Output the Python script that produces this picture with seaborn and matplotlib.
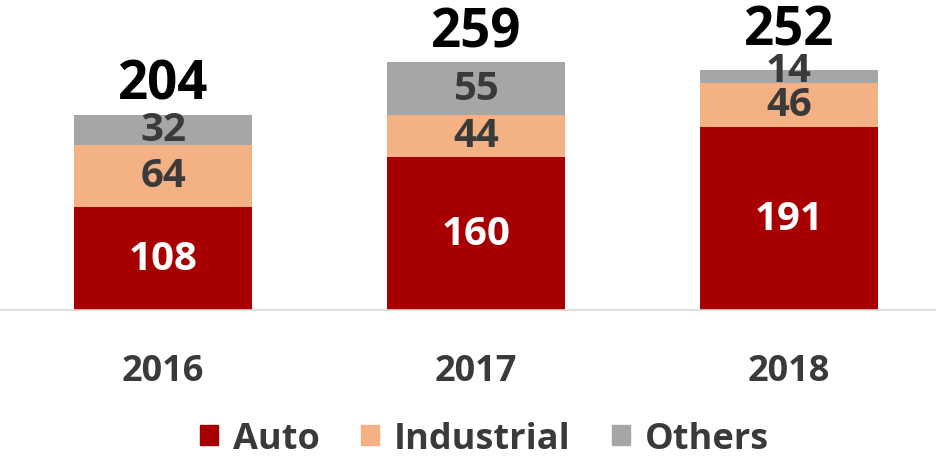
import pandas as pd
import numpy as np
import matplotlib
matplotlib.use('Agg')
import matplotlib.pyplot as plt
import seaborn as sns
from matplotlib.patches import Patch

years = ["2016", "2017", "2018"]
auto = [108, 160, 191]
industrial = [64, 44, 46]
others = [32, 55, 14]
totals = [204, 259, 252]

series_names = ["Auto", "Industrial", "Others"]
series_colors = ["#A80000", "#F4B183", "#A6A6A6"]
label_colors = ["white", "#3A3A3A", "#3A3A3A"]

sns.set_style("white")
plt.rcParams['font.family'] = ['Open Sans', 'DejaVu Sans']

df = pd.DataFrame({"year": years, "Auto": auto, "Industrial": industrial, "Others": others})
df["cum_auto"] = df["Auto"]
df["cum_ind"] = df["Auto"] + df["Industrial"]
df["cum_oth"] = df["cum_ind"] + df["Others"]

fig = plt.figure(figsize=(9.37, 4.6), dpi=100)
ax = fig.add_axes([0, 149 / 460, 1, 311 / 460])

# stacked bars: draw cumulative heights from tallest to shortest
for col, color in [("cum_oth", series_colors[2]), ("cum_ind", series_colors[1]), ("cum_auto", series_colors[0])]:
    sns.barplot(data=df, x="year", y=col, color=color, width=0.57, saturation=1,
                linewidth=0, ax=ax)

ax.set_xlim(-0.521, 2.473)
ax.set_ylim(0, 324.6)
ax.set_xlabel("")
ax.set_ylabel("")
ax.set_yticks([])
ax.set_xticks([])
for s in ["top", "right", "left"]:
    ax.spines[s].set_visible(False)
ax.spines["bottom"].set_color("#D9D9D9")
ax.spines["bottom"].set_linewidth(1.2)

# segment labels (thin top segments get their label nudged upward)
for i in range(len(years)):
    bottoms = [0, auto[i], auto[i] + industrial[i]]
    vals = [auto[i], industrial[i], others[i]]
    for k, (b, v, c) in enumerate(zip(bottoms, vals, label_colors)):
        dy = 4 if (k == 2 and v < 20) else 0
        ax.annotate(str(v), (i, b + v / 2), xytext=(0, dy), textcoords="offset points",
                    ha="center", va="center", color=c, fontsize=29, fontweight="bold")
    top_off = 8 if others[i] < 20 else 2
    ax.annotate(str(totals[i]), (i, totals[i]), xytext=(0, top_off), textcoords="offset points",
                ha="center", va="bottom", fontsize=38, fontweight="bold", color="black")
    ax.annotate(years[i], (i, 0), xytext=(0, -44), textcoords="offset points",
                ha="center", va="center", fontsize=26, fontweight="bold", color="#3A3A3A",
                annotation_clip=False)

handles = [Patch(facecolor=c, edgecolor=c, label=n) for n, c in zip(series_names, series_colors)]
leg = fig.legend(handles=handles, loc="center", bbox_to_anchor=(0.517, 20 / 460), ncol=3,
                 frameon=False, handlelength=0.5, handleheight=0.5, handletextpad=0.4,
                 columnspacing=1.15, prop={"size": 26, "weight": "bold"})
for t in leg.get_texts():
    t.set_color("#3A3A3A")

fig.savefig("out.png", dpi=100)
